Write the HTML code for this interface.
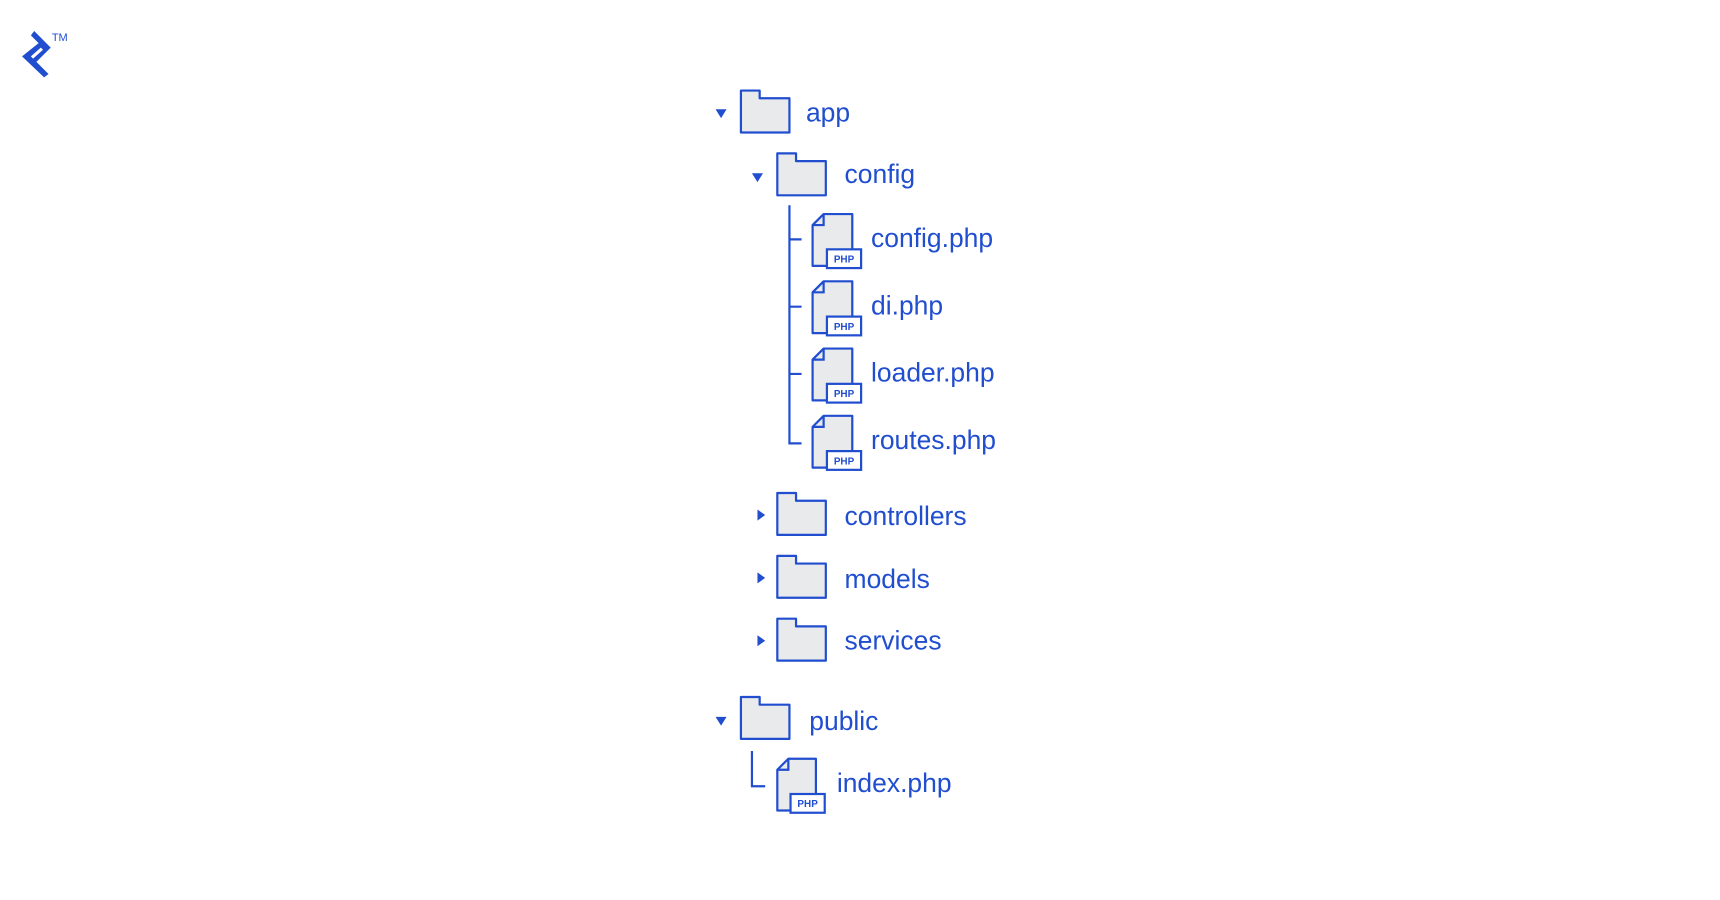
<!DOCTYPE html>
<html><head><meta charset="utf-8"><style>
html,body{margin:0;padding:0;background:#fff;width:1720px;height:900px;overflow:hidden}
svg{display:block}
text{font-family:"Liberation Sans",sans-serif;fill:#204ECF}
.t{font-size:24px}
.f{fill:#E9EAEC;stroke:#204ECF;stroke-width:2;stroke-linejoin:round}
.l{fill:none;stroke:#204ECF;stroke-width:2}
.b{fill:#fff;stroke:#204ECF;stroke-width:2}
.p{font-size:9px;font-weight:bold;text-anchor:middle}
</style></head><body>
<svg width="1720" height="900" viewBox="0 0 1560 816" xmlns="http://www.w3.org/2000/svg">
<g fill="#204ECF">
<path d="M31 28 L46 43 L33 56 L44 67 L40 70 L20 51 L35 39 L28 32 Z M28 51 L37 43 L39 45 L30 53 Z" fill-rule="evenodd"/>
</g>
<text x="47" y="37" style="font-size:10px">TM</text>

<g transform="translate(-4,-1)">
<path d="M653 100 L663 100 L658 108 Z" fill="#204ECF"/>
<path class="f" d="M676 83 H693 V90 H720 V121 H676 Z"/>
<text class="t" x="735" y="111">app</text>

<path d="M686 158 L696 158 L691 166 Z" fill="#204ECF"/>
<path class="f" d="M709 140 H726 V147 H753 V178 H709 Z"/>
<text class="t" x="770" y="167">config</text>

<path class="l" d="M720 187 V403 H731 M720 218 H731 M720 279 H731 M720 340 H731"/>

<g>
<path class="f" d="M751 195 H777 V242 H741 V205 Z"/><path class="l" d="M751 195 V205 H741"/>
<rect class="b" x="754" y="227" width="31" height="17"/><text class="p" x="769.5" y="239">PHP</text>
<text class="t" x="794" y="225">config.php</text>
</g>
<g>
<path class="f" d="M751 256 H777 V303 H741 V266 Z"/><path class="l" d="M751 256 V266 H741"/>
<rect class="b" x="754" y="288" width="31" height="17"/><text class="p" x="769.5" y="300">PHP</text>
<text class="t" x="794" y="286">di.php</text>
</g>
<g>
<path class="f" d="M751 317 H777 V364 H741 V327 Z"/><path class="l" d="M751 317 V327 H741"/>
<rect class="b" x="754" y="349" width="31" height="17"/><text class="p" x="769.5" y="361">PHP</text>
<text class="t" x="794" y="347">loader.php</text>
</g>
<g>
<path class="f" d="M751 378 H777 V425 H741 V388 Z"/><path class="l" d="M751 378 V388 H741"/>
<rect class="b" x="754" y="410" width="31" height="17"/><text class="p" x="769.5" y="422">PHP</text>
<text class="t" x="794" y="408">routes.php</text>
</g>

<path d="M691 463 L698 468 L691 473 Z" fill="#204ECF"/>
<path class="f" d="M709 448 H726 V455 H753 V486 H709 Z"/>
<text class="t" x="770" y="477">controllers</text>

<path d="M691 520 L698 525 L691 530 Z" fill="#204ECF"/>
<path class="f" d="M709 505 H726 V512 H753 V543 H709 Z"/>
<text class="t" x="770" y="534">models</text>

<path d="M691 577 L698 582 L691 587 Z" fill="#204ECF"/>
<path class="f" d="M709 562 H726 V569 H753 V600 H709 Z"/>
<text class="t" x="770" y="590">services</text>

<path d="M653 651 L663 651 L658 659 Z" fill="#204ECF"/>
<path class="f" d="M676 633 H693 V640 H720 V671 H676 Z"/>
<text class="t" x="738" y="663">public</text>

<path class="l" d="M686 682 V714 H698"/>
<g>
<path class="f" d="M719 689 H744 V736 H709 V699 Z"/><path class="l" d="M719 689 V699 H709"/>
<rect class="b" x="721" y="721" width="31" height="17"/><text class="p" x="736.5" y="733">PHP</text>
<text class="t" x="763" y="719">index.php</text>
</g>
</g>
</svg>
</body></html>
